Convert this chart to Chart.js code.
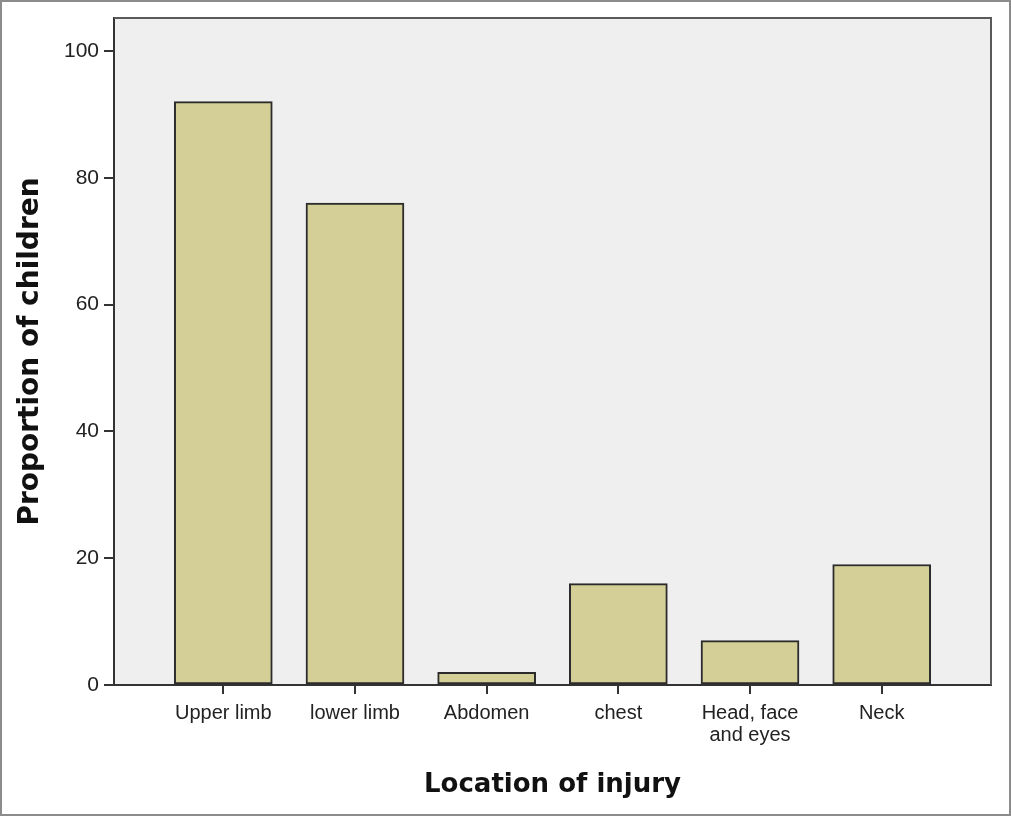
<!DOCTYPE html>
<html>
<head>
<meta charset="utf-8">
<script src="https://cdn.jsdelivr.net/npm/chart.js@4"></script>
<style>
  html, body { margin: 0; padding: 0; background: #fff; }
  #wrap { width: 1011px; height: 816px; position: relative; }
</style>
</head>
<body>
<div id="wrap"><canvas id="chart" width="1011" height="816"></canvas></div>
<script>
const categories = ["Upper limb", "lower limb", "Abdomen", "chest", ["Head, face", "and eyes"], "Neck"];
const proportions = [92, 76, 2, 16, 7, 19];
const yTicks = [0, 20, 40, 60, 80, 100];

const FONT = "'Liberation Sans', Arial, sans-serif";
const TITLE_FONT = "'DejaVu Sans', Arial, sans-serif";

// plot frame + outer image border
const framePlugin = {
  id: "frame",
  beforeDraw(chart) {
    const { ctx, chartArea: a } = chart;
    ctx.save();
    ctx.fillStyle = "#f0efef";
    ctx.fillRect(a.left, a.top, a.right - a.left, a.bottom - a.top);
    ctx.restore();
  },
  afterDraw(chart) {
    const { ctx, chartArea: a, width, height } = chart;
    ctx.save();
    ctx.strokeStyle = "#5a5a5a";
    ctx.lineWidth = 2;
    ctx.beginPath();
    ctx.moveTo(a.left, a.top);
    ctx.lineTo(a.right, a.top);
    ctx.lineTo(a.right, a.bottom);
    ctx.stroke();
    ctx.strokeStyle = "#8c8c8c";
    ctx.lineWidth = 2;
    ctx.strokeRect(1, 1, width - 2, height - 2);
    ctx.restore();
  }
};

new Chart(document.getElementById("chart"), {
  type: "bar",
  data: {
    datasets: [{
      data: proportions.map((v, i) => ({ x: i, y: v })),
      backgroundColor: "#d4cf97",
      borderColor: "#2b2b2b",
      borderWidth: 2,
      borderSkipped: false,
      barThickness: 98
    }]
  },
  options: {
    responsive: false,
    animation: false,
    layout: { padding: { left: 2, top: 18, right: 20, bottom: 2 } },
    plugins: { legend: { display: false }, tooltip: { enabled: false } },
    scales: {
      x: {
        type: "linear",
        min: -0.83,
        max: 5.83,
        offset: false,
        afterBuildTicks: (s) => { s.ticks = categories.map((c, i) => ({ value: i })); },
        afterFit: (s) => { s.height = 129; },
        grid: { offset: false, drawOnChartArea: false, drawTicks: true, tickLength: 9, color: "#333", lineWidth: 2 },
        border: { display: true, color: "#333", width: 2 },
        ticks: {
          autoSkip: false,
          maxRotation: 0,
          padding: 8,
          color: "#222",
          font: { family: FONT, size: 20, lineHeight: 1.1 },
          callback: (v) => categories[v]
        },
        title: {
          display: true,
          text: "Location of injury",
          color: "#111",
          font: { family: TITLE_FONT, size: 26, weight: "bold" },
          padding: { top: 0, bottom: 13 }
        }
      },
      y: {
        min: 0,
        max: 105.2,
        afterBuildTicks: (s) => { s.ticks = yTicks.map(v => ({ value: v })); },
        afterFit: (s) => { s.width = 112; },
        grid: { drawOnChartArea: false, drawTicks: true, tickLength: 10, color: "#333", lineWidth: 2 },
        border: { display: true, color: "#333", width: 2 },
        ticks: {
          padding: 5,
          color: "#222",
          font: { family: FONT, size: 21 }
        },
        title: {
          display: true,
          text: "Proportion of children",
          color: "#111",
          font: { family: TITLE_FONT, size: 28, weight: "bold" },
          padding: { top: 12, bottom: 0 }
        }
      }
    }
  },
  plugins: [framePlugin]
});
</script>
</body>
</html>
